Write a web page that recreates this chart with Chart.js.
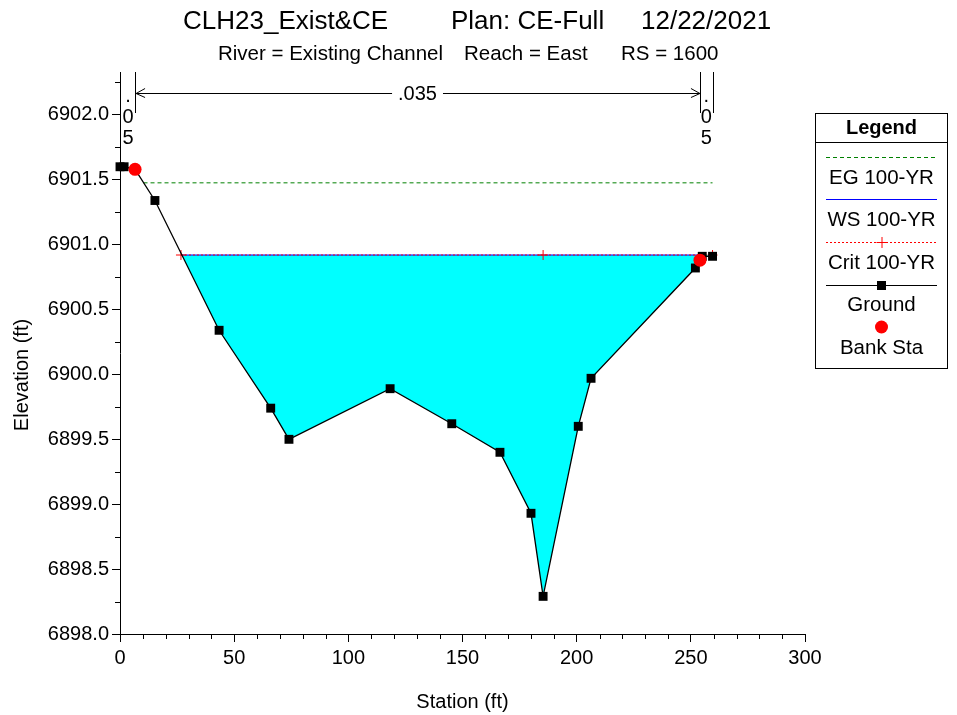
<!DOCTYPE html>
<html><head><meta charset="utf-8">
<script src="https://cdn.jsdelivr.net/npm/chart.js@4.4.0/dist/chart.umd.min.js"></script>
<style>html,body{margin:0;padding:0;background:#fff;}#wrap{width:957px;height:715px;}</style>
</head><body><div id="wrap"><canvas id="c" width="957" height="715"></canvas></div>
<script>
// ---- data ----
const titleParts = ['CLH23_Exist&CE', 'Plan: CE-Full', '12/22/2021'];
const subtitleParts = ['River = Existing Channel', 'Reach = East', 'RS = 1600'];
const groundStation = [0, 1.8, 6.6, 15.3, 43.4, 66.0, 74.0, 118.3, 145.3, 166.4, 180.0, 185.3, 200.7, 206.3, 252.0, 255.0, 259.5];
const groundElev = [6901.60, 6901.60, 6901.58, 6901.34, 6900.34, 6899.74, 6899.50, 6899.89, 6899.62, 6899.40, 6898.93, 6898.29, 6899.60, 6899.97, 6900.82, 6900.91, 6900.91];
const bankStation = [6.6, 254.0];
const bankElev = [6901.58, 6900.88];
const wsStation = [26.7, 255.1];
const wsElev = [6900.92, 6900.92];
const critStation = [26.7, 185.3, 259.5];
const critElev = [6900.92, 6900.92, 6900.92];
const egStation = [10.3, 259.5];
const egElev = [6901.476, 6901.476];
const manningN = ['.05', '.035', '.05'];
const seriesNames = ['EG 100-YR', 'WS 100-YR', 'Crit 100-YR', 'Ground', 'Bank Sta'];
const xTitle = 'Station (ft)';
const yTitle = 'Elevation (ft)';

const FONT = '"Liberation Sans", Arial, sans-serif';
const pts = (xs, ys) => xs.map((x, i) => ({x: x, y: ys[i]}));

const EG_COLOR = '#008000', WS_COLOR = '#0000FF', CRIT_COLOR = '#FF0000', GROUND_COLOR = '#000000', BANK_COLOR = '#FF0000';

const annot = {
  id: 'annot',
  afterDraw(chart) {
    const {ctx, chartArea: a, scales: {x, y}} = chart;
    const cr = v => Math.round(v) + 0.5;
    ctx.save();
    ctx.fillStyle = '#000'; ctx.strokeStyle = '#000'; ctx.lineWidth = 1;
    // titles
    ctx.textBaseline = 'middle'; ctx.textAlign = 'left';
    ctx.font = '26px ' + FONT;
    [183, 451, 641].forEach((px, i) => ctx.fillText(titleParts[i], px, 22));
    ctx.font = '20.5px ' + FONT;
    [218, 464, 621].forEach((px, i) => ctx.fillText(subtitleParts[i], px, 54));
    // y title
    ctx.save();
    ctx.font = '20px ' + FONT;
    ctx.translate(22, 375); ctx.rotate(-Math.PI / 2);
    ctx.textAlign = 'center'; ctx.fillText(yTitle, 0, 0);
    ctx.restore();
    // minor ticks
    ctx.beginPath();
    for (let k = 0; ; k++) {
      const v = y.min + k * 0.25;
      if (v > y.max + 1e-9) break;
      if (k % 2 === 1) { const py = cr(y.getPixelForValue(v)); ctx.moveTo(a.left - 5, py); ctx.lineTo(a.left, py); }
    }
    for (let s = x.min; s <= x.max; s += 10) {
      if (s % 50 !== 0) { const px = cr(x.getPixelForValue(s)); ctx.moveTo(px, a.bottom); ctx.lineTo(px, a.bottom + 5); }
    }
    ctx.stroke();
    // Manning's n annotation
    const xs0 = x.getPixelForValue(groundStation[0]);
    const xsN = x.getPixelForValue(groundStation[groundStation.length - 1]);
    const xb1 = x.getPixelForValue(bankStation[0]);
    const xb2 = x.getPixelForValue(bankStation[1]);
    const top = a.top, bot = a.top + 41, ay = a.top + 21;
    ctx.beginPath();
    [xs0, xb1, xb2, xsN].forEach(px => { ctx.moveTo(cr(px), top); ctx.lineTo(cr(px), bot); });
    ctx.moveTo(xb1 + 1, cr(ay)); ctx.lineTo(xb2, cr(ay));
    ctx.moveTo(xb1 + 10, ay - 4.5); ctx.lineTo(xb1 + 1, cr(ay)); ctx.lineTo(xb1 + 10, ay + 4.5);
    ctx.moveTo(xb2 - 9, ay - 4.5); ctx.lineTo(xb2, cr(ay)); ctx.lineTo(xb2 - 9, ay + 4.5);
    ctx.stroke();
    ctx.font = '20px ' + FONT; ctx.textAlign = 'center'; ctx.textBaseline = 'middle';
    const midTxt = manningN[1];
    const mx = (xb1 + xb2) / 2;
    const w = ctx.measureText(midTxt).width;
    ctx.fillStyle = '#fff'; ctx.fillRect(mx - w / 2 - 6, ay - 8, w + 12, 16);
    ctx.fillStyle = '#000'; ctx.fillText(midTxt, mx, ay + 1);
    const vert = (txt, cx) => { txt.split('').forEach((ch, i) => ctx.fillText(ch, cx, top + 24 + i * 21)); };
    vert(manningN[0], (xs0 + xb1) / 2 + 0.5);
    vert(manningN[2], (xb2 + xsN) / 2);
    // legend
    const L = 815.5, R = 947.5, T = 113.5, B = 368.5, cx = (L + R) / 2;
    ctx.strokeStyle = '#000'; ctx.lineWidth = 1;
    ctx.strokeRect(L, T, R - L, B - T);
    ctx.beginPath(); ctx.moveTo(L, 142.5); ctx.lineTo(R, 142.5); ctx.stroke();
    ctx.font = 'bold 20px ' + FONT; ctx.fillText('Legend', cx, 128);
    ctx.font = '20.5px ' + FONT;
    const lx1 = 826, lx2 = 937;
    const seg = (yy, color, dash) => { ctx.save(); ctx.strokeStyle = color; ctx.lineWidth = 1.2; ctx.setLineDash(dash); ctx.beginPath(); ctx.moveTo(lx1, yy); ctx.lineTo(lx2, yy); ctx.stroke(); ctx.restore(); };
    seg(157.5, EG_COLOR, [4, 3]);
    ctx.fillText(seriesNames[0], cx, 178);
    seg(199.5, WS_COLOR, []);
    ctx.fillText(seriesNames[1], cx, 220);
    seg(242.5, CRIT_COLOR, [2, 2]);
    ctx.save(); ctx.strokeStyle = CRIT_COLOR; ctx.beginPath(); ctx.moveTo(cx - 5, 242.5); ctx.lineTo(cx + 5, 242.5); ctx.moveTo(cx + 0.5, 237); ctx.lineTo(cx + 0.5, 248); ctx.stroke(); ctx.restore();
    ctx.fillText(seriesNames[2], cx, 263);
    seg(285.5, GROUND_COLOR, []);
    ctx.fillRect(cx - 4.5, 281, 9, 9);
    ctx.fillText(seriesNames[3], cx, 305);
    ctx.fillStyle = BANK_COLOR; ctx.beginPath(); ctx.arc(cx, 327, 6.5, 0, Math.PI * 2); ctx.fill();
    ctx.fillStyle = '#000';
    ctx.fillText(seriesNames[4], cx, 348);
    ctx.restore();
  }
};

new Chart(document.getElementById('c'), {
  type: 'scatter',
  data: {
    datasets: [
      { label: seriesNames[4], data: pts(bankStation, bankElev), showLine: false, pointStyle: 'circle', pointRadius: 6.5,
        backgroundColor: BANK_COLOR, borderColor: BANK_COLOR, pointBorderWidth: 0, order: 0, clip: false },
      { label: seriesNames[3], data: pts(groundStation, groundElev), showLine: true, borderColor: GROUND_COLOR, borderWidth: 1.3,
        pointStyle: 'rect', pointRadius: 6.3, pointBackgroundColor: GROUND_COLOR, pointBorderColor: GROUND_COLOR, pointBorderWidth: 0,
        fill: { target: { value: wsElev[0] }, above: 'rgba(0,0,0,0)', below: '#00FFFF' }, order: 1, clip: false },
      { label: seriesNames[2], data: pts(critStation, critElev), showLine: true, borderColor: CRIT_COLOR, borderWidth: 1, borderDash: [2, 2],
        pointStyle: 'cross', pointRadius: 5, pointBorderColor: CRIT_COLOR, pointBorderWidth: 1, fill: false, order: 2, clip: false },
      { label: seriesNames[1], data: pts(wsStation, wsElev), showLine: true, borderColor: WS_COLOR, borderWidth: 1,
        pointRadius: 0, fill: false, order: 3, clip: false },
      { label: seriesNames[0], data: pts(egStation, egElev), showLine: true, borderColor: EG_COLOR, borderWidth: 1, borderDash: [4, 3],
        pointRadius: 0, fill: false, order: 4, clip: false }
    ]
  },
  options: {
    responsive: false, animation: false, devicePixelRatio: 1, events: [],
    layout: { padding: { left: 0, right: 152, top: 72, bottom: 0 } },
    plugins: { legend: { display: false }, tooltip: { enabled: false }, filler: { drawTime: 'beforeDatasetsDraw' } },
    font: { family: FONT },
    scales: {
      x: {
        type: 'linear', min: 0, max: 300,
        ticks: { stepSize: 50, color: '#000', font: { family: FONT, size: 20 }, padding: 4, maxRotation: 0, includeBounds: false },
        grid: { drawOnChartArea: false, drawTicks: true, tickLength: 8, color: '#000', tickColor: '#000' },
        border: { display: true, color: '#000', width: 1 },
        title: { display: true, text: xTitle, color: '#000', font: { family: FONT, size: 20 }, padding: { top: 0, bottom: 1 } },
        afterFit(s) { s.height = 81; }
      },
      y: {
        type: 'linear', min: 6898, max: 6902.33,
        ticks: { stepSize: 0.5, color: '#000', font: { family: FONT, size: 20 }, padding: 3, includeBounds: false,
                 callback: v => Number(v).toFixed(1) },
        grid: { drawOnChartArea: false, drawTicks: true, tickLength: 8, color: '#000', tickColor: '#000' },
        border: { display: true, color: '#000', width: 1 },
        afterFit(s) { s.width = 120; }
      }
    }
  },
  plugins: [annot]
});
</script></body></html>
